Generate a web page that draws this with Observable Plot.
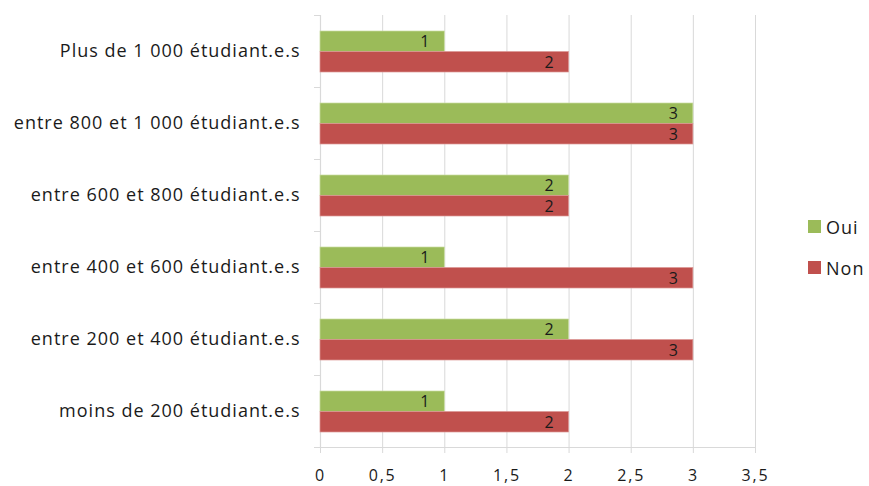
<!DOCTYPE html>
<html>
<head>
<meta charset="utf-8">
<script src="https://cdn.jsdelivr.net/npm/d3@7"></script>
<script src="https://cdn.jsdelivr.net/npm/@observablehq/plot@0.6"></script>
<style>
  body { margin: 0; background: #fff; font-family: "Open Sans", sans-serif; }
  #wrap { position: relative; width: 869px; height: 486px; }
  #legend { position: absolute; left: 808px; top: 216px; font: 18px "Open Sans", sans-serif; letter-spacing: 1px; color: #1a1a1a; }
  #legend .item { display: flex; align-items: center; height: 21px; margin-bottom: 20px; }
  #legend .sw { width: 13px; height: 13px; margin-right: 5px; }
  svg .ylab text { letter-spacing: 1px; }
  svg .xlab text { letter-spacing: 1.8px; }
</style>
</head>
<body>
<div id="wrap"><div id="legend"></div></div>
<script>
const categories = [
  "Plus de 1 000 étudiant.e.s",
  "entre 800 et 1 000 étudiant.e.s",
  "entre 600 et 800 étudiant.e.s",
  "entre 400 et 600 étudiant.e.s",
  "entre 200 et 400 étudiant.e.s",
  "moins de 200 étudiant.e.s"
];
const oui = [1, 3, 2, 1, 2, 1];
const non = [2, 3, 2, 3, 3, 2];
const xTicks = [0, 0.5, 1, 1.5, 2, 2.5, 3, 3.5];
const series = ["Oui", "Non"];
const colors = ["#9BBB59", "#C0504D"];

const ouiData = categories.map((c, i) => ({category: c, value: oui[i]}));
const nonData = categories.map((c, i) => ({category: c, value: non[i]}));
const fmt = d => String(d).replace(".", ",");
const gridColor = "#d9d9d9";

const chart = Plot.plot({
  width: 869,
  height: 486,
  marginLeft: 320,
  marginRight: 114,
  marginTop: 15,
  marginBottom: 39,
  style: {fontFamily: "Open Sans, sans-serif", fontSize: "16px", color: "#1a1a1a", background: "transparent"},
  x: {domain: [0, 3.5], ticks: xTicks, tickFormat: fmt, label: null},
  y: {domain: categories, padding: 0, label: null},
  marks: [
    Plot.ruleX(xTicks.slice(1), {stroke: gridColor, strokeWidth: 1}),
    Plot.ruleX([0], {stroke: gridColor, strokeWidth: 1.2}),
    Plot.ruleY(categories, {y: d => d, x1: 0, x2: 0, dy: -36, insetLeft: -6, stroke: gridColor}),
    Plot.ruleY([categories[categories.length - 1]], {y: d => d, x1: 0, x2: 3.5, dy: 36, insetLeft: -6, stroke: gridColor, strokeWidth: 1.2}),
    Plot.barX(ouiData, {y: "category", x: "value", fill: colors[0], insetTop: 16, insetBottom: 35.5, stroke: "#c8dca0", strokeWidth: 0.7}),
    Plot.barX(nonData, {y: "category", x: "value", fill: colors[1], insetTop: 36.5, insetBottom: 15, stroke: "#dc9896", strokeWidth: 0.7}),
    Plot.text(ouiData, {y: "category", x: "value", text: d => fmt(d.value), dx: -20, dy: -10, fill: "#1a1a1a", fontSize: 16}),
    Plot.text(nonData, {y: "category", x: "value", text: d => fmt(d.value), dx: -20, dy: 11, fill: "#1a1a1a", fontSize: 16}),
    Plot.axisX({ticks: xTicks, tickFormat: fmt, tickSize: 6, tickPadding: 16, stroke: gridColor, strokeOpacity: 1, fontSize: 16, className: "xlab", label: null}),
    Plot.axisY({tickSize: 0, tickPadding: 20, fontSize: 18, className: "ylab", label: null})
  ]
});
document.getElementById("wrap").prepend(chart);

const legend = document.getElementById("legend");
series.forEach((s, i) => {
  const item = document.createElement("div");
  item.className = "item";
  item.innerHTML = `<div class="sw" style="background:${colors[i]}"></div><span>${s}</span>`;
  legend.appendChild(item);
});
</script>
</body>
</html>
